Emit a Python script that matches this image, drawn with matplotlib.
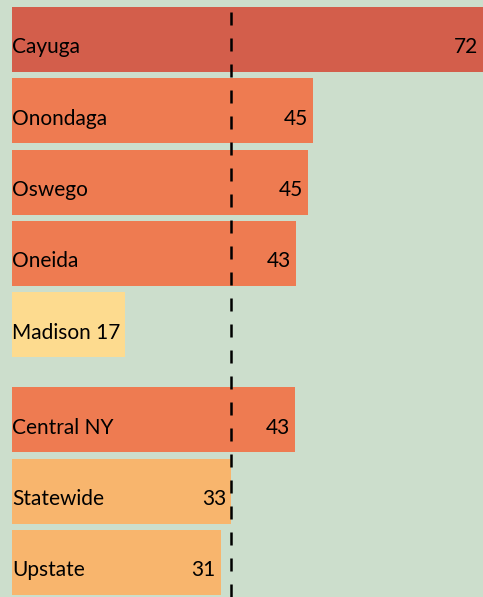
import matplotlib
matplotlib.use("Agg")
import matplotlib.pyplot as plt

plt.rcParams["font.family"] = ["Lato", "DejaVu Sans"]

# counties first, then the regional comparisons after a small gap
counties = ["Cayuga", "Onondaga", "Oswego", "Oneida", "Madison"]
county_values = [72.0, 45.3, 44.6, 42.8, 17.0]
regions = ["Central NY", "Statewide", "Upstate"]
region_values = [42.6, 33.0, 31.4]

county_colors = ["#D35E4B", "#EE7B51", "#EE7B51", "#EE7B51", "#FDDB8F"]
region_colors = ["#EE7B51", "#F8B56D", "#F8B56D"]
BG = "#CCDECC"
GROUP_GAP = 0.33
XMAX = 70.9
FS = 15

fig = plt.figure(figsize=(4.83, 5.97), dpi=100)
fig.patch.set_facecolor(BG)
ax = fig.add_axes([0, 0, 1, 1])
ax.set_axis_off()

names = counties + regions
values = county_values + region_values
colors = county_colors + region_colors
ypos = list(range(len(counties))) + [len(counties) + GROUP_GAP + i for i in range(len(regions))]

ax.barh(ypos, values, height=0.91, color=colors, edgecolor="none")

for y, name, v in zip(ypos, names, values):
    if v > 25:
        ax.annotate(name, (0, y), xytext=(0, -9.9), textcoords="offset points",
                    ha="left", va="baseline", fontsize=FS)
        ax.annotate(f"{v:.0f}", (min(v, XMAX), y), xytext=(-3.5, -9.9),
                    textcoords="offset points", ha="right", va="baseline", fontsize=FS)
    else:
        ax.annotate(f"{name} {v:.0f}", (0, y), xytext=(0, -9.9),
                    textcoords="offset points", ha="left", va="baseline", fontsize=FS)

# statewide reference line
ax.axvline(region_values[1], color="black", linewidth=1.8, linestyle=(0, (5.2, 5.2)))

ax.set_xlim(-1.81, XMAX)
ax.set_ylim(ypos[-1] + 0.483, -0.554)

fig.savefig("out.png", dpi=100, facecolor=BG)
